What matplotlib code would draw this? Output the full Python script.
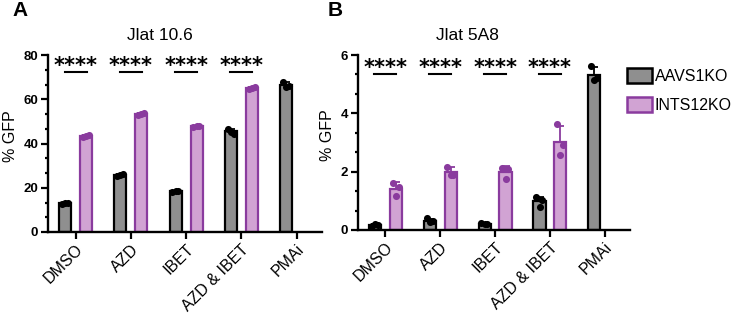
import numpy as np
import matplotlib
matplotlib.use("Agg")
import matplotlib.pyplot as plt
from matplotlib.patches import Patch
from matplotlib.ticker import MultipleLocator, AutoMinorLocator
import matplotlib.transforms as mtransforms

plt.rcParams['font.family'] = ['Liberation Sans', 'DejaVu Sans']

# data (three replicates per condition, % GFP)
conditions = ['DMSO', 'AZD', 'IBET', 'AZD & IBET', 'PMAi']
series = ['AAVS1KO', 'INTS12KO']

jlat106_aavs = [[12.8, 13.3, 13.0], [25.5, 26.3, 25.8], [18.2, 18.6, 18.4],
                [46.5, 44.5, 45.3], [68.0, 66.0, 65.5]]
jlat106_ints = [[43.0, 43.8, 43.5], [53.0, 53.8, 53.5], [47.6, 48.0, 47.8],
                [64.5, 65.6, 65.0]]

jlat5a8_aavs = [[0.13, 0.16, 0.19], [0.40, 0.30, 0.26], [0.25, 0.22, 0.19],
                [1.12, 1.02, 0.80], [5.62, 5.20, 5.15]]
jlat5a8_ints = [[1.60, 1.46, 1.16], [2.17, 1.88, 1.88], [2.13, 2.09, 1.74],
                [3.62, 2.91, 2.57]]

stars = ['****', '****', '****', '****']

GREY = '#8f8f8f'
LILAC = '#d1a3d3'
PURPLE = '#8a3b9e'
JITTER = [-0.06, 0.05, 0.0]
OFF = 0.19
W = 0.22


def draw_panel(ax, aavs, ints, ymax, major, star_y, line_y):
    groups = [(aavs, -OFF, GREY, 'black', 'black'), (ints, OFF, LILAC, PURPLE, PURPLE)]
    for reps, off, fill, edge, dotc in groups:
        reps = np.array(reps)
        x = np.arange(len(reps)) + off
        means = reps.mean(axis=1)
        sds = reps.std(axis=1, ddof=1)
        ax.bar(x, means, W, color=fill, edgecolor=edge, linewidth=1.6, zorder=2)
        ax.errorbar(x, means, yerr=[np.zeros_like(sds), sds], fmt='none',
                    ecolor=edge, elinewidth=1.3, capsize=3, capthick=1.3, zorder=3)
        for j in range(reps.shape[1]):
            ax.scatter(x + JITTER[j], reps[:, j], s=26, color=dotc, zorder=4,
                       linewidths=0, clip_on=False)

    ax.set_xlim(-0.5, 4.46)
    ax.set_ylim(0, ymax)
    ax.set_xticks(range(len(conditions)))
    ax.set_xticklabels(conditions, rotation=45, ha='right', va='top',
                       rotation_mode='anchor', fontsize=11.5)
    shift = mtransforms.ScaledTranslation(7 / 72, 2 / 72, fig.dpi_scale_trans)
    for lab in ax.get_xticklabels():
        lab.set_transform(lab.get_transform() + shift)
    ax.yaxis.set_major_locator(MultipleLocator(major))
    ax.yaxis.set_minor_locator(AutoMinorLocator(3))
    for lab in ax.get_yticklabels():
        lab.set_fontweight('bold')
        lab.set_fontsize(9.5)
    ax.spines['top'].set_visible(False)
    ax.spines['right'].set_visible(False)
    for s in ['left', 'bottom']:
        ax.spines[s].set_linewidth(1.7)
    ax.tick_params(axis='both', which='major', width=1.6, length=5, pad=2)
    ax.tick_params(axis='y', which='minor', width=1.6, length=2.5)
    ax.set_ylabel('% GFP', fontsize=11.5)

    trans = mtransforms.blended_transform_factory(ax.transData, ax.transAxes)
    for i, s in enumerate(stars):
        ax.text(i, star_y, s, transform=trans, ha='center', va='baseline',
                fontsize=15, fontweight='bold', family='DejaVu Sans')
        ax.plot([i - 0.2, i + 0.2], [line_y, line_y], transform=trans,
                color='black', lw=1.5, clip_on=False)


fig = plt.figure(figsize=(7.35, 3.13), dpi=100)
axA = fig.add_axes([48 / 735, 1 - 232 / 313, 274 / 735, 177 / 313])
axB = fig.add_axes([358 / 735, 1 - 230 / 313, 272 / 735, 175 / 313])

draw_panel(axA, jlat106_aavs, jlat106_ints, 80, 20, 0.904, 0.904)
draw_panel(axB, jlat5a8_aavs, jlat5a8_ints, 6, 2, 0.893, 0.891)
axA.yaxis.set_label_coords(-0.108, 0.54)
axB.yaxis.set_label_coords(-0.085, 0.54)

fig.text(160 / 735, 1 - 35 / 313, 'Jlat 10.6', fontsize=12.5, ha='center', va='center')
fig.text(467 / 735, 1 - 35 / 313, 'Jlat 5A8', fontsize=12.5, ha='center', va='center')
fig.text(20 / 735, 1 - 11 / 313, 'A', fontsize=15, fontweight='bold', ha='center', va='center')
fig.text(335 / 735, 1 - 10 / 313, 'B', fontsize=15, fontweight='bold', ha='center', va='center')

handles = [Patch(facecolor=GREY, edgecolor='black', linewidth=1.8, label=series[0]),
           Patch(facecolor=LILAC, edgecolor=PURPLE, linewidth=1.8, label=series[1])]
fig.legend(handles=handles, loc='upper left', bbox_to_anchor=(627 / 735, 1 - 68 / 313),
           frameon=False, fontsize=11.5, handlelength=1.55, handleheight=1.1,
           handletextpad=0.2, labelspacing=0.8, borderpad=0, borderaxespad=0)

fig.savefig('out.png', dpi=100)
